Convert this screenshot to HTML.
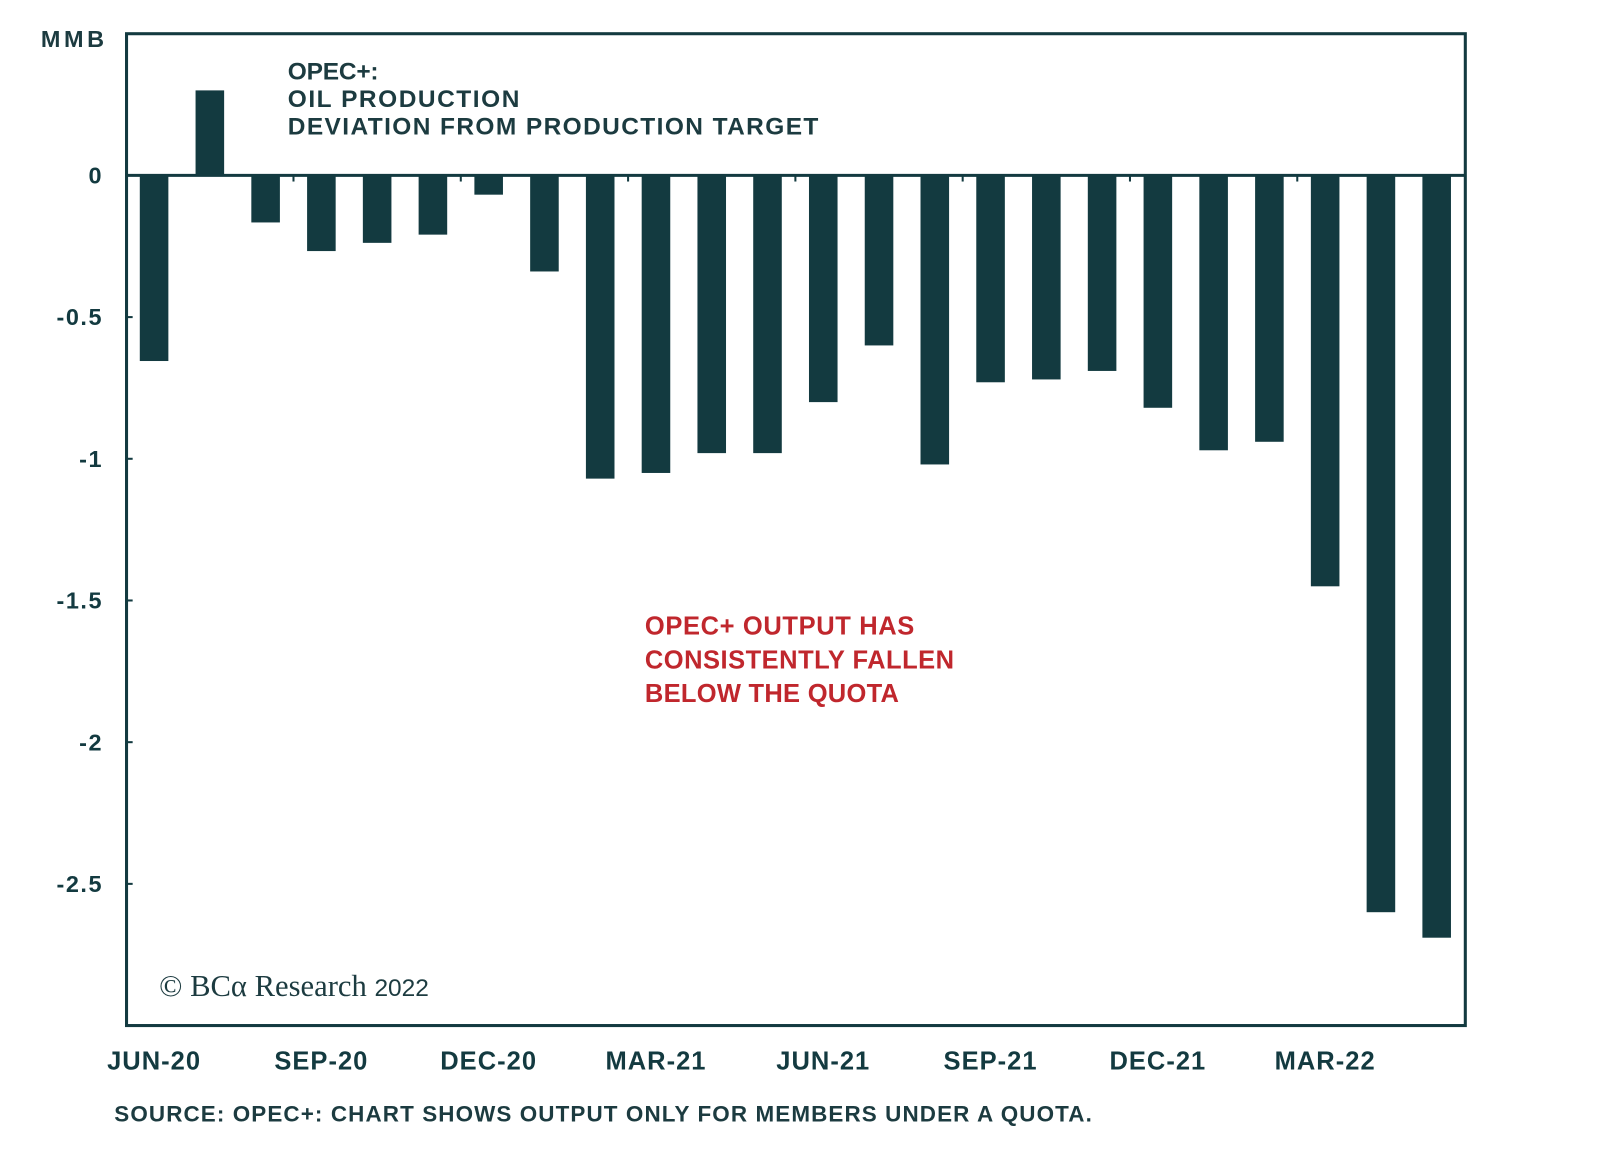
<!DOCTYPE html>
<html><head><meta charset="utf-8"><style>
body{margin:0;background:#fff;width:1600px;height:1146px;overflow:hidden}
text{font-family:"Liberation Sans",sans-serif;font-weight:bold}
</style></head><body>
<svg id="chart" width="1600" height="1146" viewBox="0 0 1568 1123" xmlns="http://www.w3.org/2000/svg">
<g id="bars"></g>
<g id="axes"></g>
<text x="40" y="46" font-size="23" fill="#1c3b40" textLength="62">MMB</text>
<g font-size="24" fill="#1c3b40">
<text x="282" y="78" textLength="89">OPEC+:</text>
<text x="282" y="105" textLength="227">OIL PRODUCTION</text>
<text x="282" y="132" textLength="520">DEVIATION FROM PRODUCTION TARGET</text>
</g>
<g font-size="25" fill="#c0272d">
<text x="632" y="622" textLength="264">OPEC+ OUTPUT HAS</text>
<text x="632" y="655" textLength="303">CONSISTENTLY FALLEN</text>
<text x="632" y="688" textLength="249">BELOW THE QUOTA</text>
</g>
<text x="156" y="976" font-size="30" fill="#1c3b40" style="font-family:'Liberation Serif',serif;font-weight:normal">© BCα Research <tspan font-size="24" style="font-family:'Liberation Sans',sans-serif">2022</tspan></text>
<text x="112" y="1099" font-size="22" fill="#1c3b40" textLength="958">SOURCE: OPEC+: CHART SHOWS OUTPUT ONLY FOR MEMBERS UNDER A QUOTA.</text>
</svg>
<script>
const months=["JUN-20","JUL-20","AUG-20","SEP-20","OCT-20","NOV-20","DEC-20","JAN-21","FEB-21","MAR-21","APR-21","MAY-21","JUN-21","JUL-21","AUG-21","SEP-21","OCT-21","NOV-21","DEC-21","JAN-22","FEB-22","MAR-22","APR-22","MAY-22"];
const deviation=[-0.655,0.30,-0.166,-0.267,-0.238,-0.209,-0.068,-0.339,-1.07,-1.05,-0.98,-0.98,-0.80,-0.60,-1.02,-0.73,-0.72,-0.69,-0.82,-0.97,-0.94,-1.45,-2.60,-2.69];
const yTicks=[0,-0.5,-1,-1.5,-2,-2.5];
const yTickLabels=["0","-0.5","-1","-1.5","-2","-2.5"];
const xLabelIdx=[0,3,6,9,12,15,18,21];
const NS="http://www.w3.org/2000/svg";
const L=124,R=1436,T=33,B=1005,yMax=0.5,yMin=-3;
const y=v=>T+(yMax-v)/(yMax-yMin)*(B-T);
const step=54.65,x0=151;
const x=i=>x0+i*step;
const C="#133a40";
const bars=document.getElementById('bars'),axes=document.getElementById('axes');
function mk(tag,attrs,parent){const e=document.createElementNS(NS,tag);for(const k in attrs)e.setAttribute(k,attrs[k]);parent.appendChild(e);return e;}
deviation.forEach((v,i)=>{
 const r=mk('rect',{x:x(i)-14,y:Math.min(y(v),y(0)),width:28,height:Math.abs(y(v)-y(0)),fill:C},bars);
 
 
});
const f=mk('rect',{x:L,y:T,width:R-L,height:B-T,fill:'none',stroke:C,'stroke-width':3},axes);


const z=mk('line',{x1:L,x2:R,y1:y(0),y2:y(0),stroke:C,'stroke-width':3},axes);


yTicks.forEach((v,i)=>{
 const t=mk('line',{x1:L,x2:L+6,y1:y(v),y2:y(v),stroke:C,'stroke-width':2},axes);
 
 
 const tx=mk('text',{x:101,y:y(v)+8,'text-anchor':'end','font-size':23,'letter-spacing':1.5,fill:C},axes);
 tx.textContent=yTickLabels[i];
 
 
});
xLabelIdx.forEach(i=>{
 if(i>0){const t=mk('line',{x1:x(i)-step/2,x2:x(i)-step/2,y1:y(0),y2:y(0)+6,stroke:C,'stroke-width':2},axes);
 
 }
 const tx=mk('text',{x:x(i),y:1048,'text-anchor':'middle','font-size':25,'letter-spacing':1,fill:C},axes);
 tx.textContent=months[i];
 
 
});
</script>
</body></html>
